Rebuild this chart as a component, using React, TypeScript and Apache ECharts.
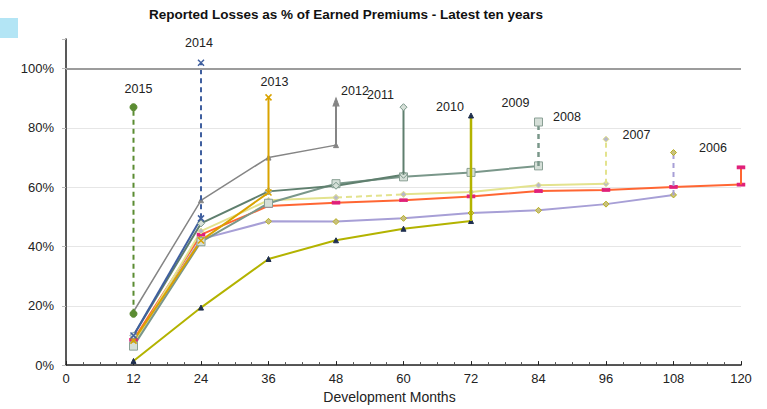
import { useEffect, useRef } from 'react';
import * as echarts from 'echarts';

// Development ages (months) and accident years
const months = [12, 24, 36, 48, 60, 72, 84, 96, 108, 120];
const years = ['2015', '2014', '2013', '2012', '2011', '2010', '2009', '2008', '2007', '2006'];

// Reported losses as % of earned premiums, by accident year
const loss2015 = [17.3];
const loss2014 = [10, 49.5];
const loss2013 = [8.2, 42, 58.2];
const loss2012 = [18, 55.6, 70, 74.2];
const loss2011 = [10, 47.8, 58.6, 60.5, 64.2];
const loss2010 = [1.4, 19.4, 35.8, 42.1, 46, 48.6];
const loss2009 = [6.4, 41.6, 54.6, 61.2, 63.5, 65, 67.2];
const loss2008 = [7, 45.2, 55.6, 56.5, 57.6, 58.4, 60.7, 61.2];
const loss2007 = [7.8, 42.5, 48.5, 48.4, 49.5, 51.3, 52.2, 54.3, 57.4];
const loss2006 = [8.5, 44, 53.7, 54.8, 55.6, 56.9, 58.7, 59.1, 60.1, 60.9];

// Projected ultimate loss ratio per accident year
const ultimate = [87, 102, 90.3, 88.8, 87, 84.2, 82, 76.2, 71.7, 66.7];

const yTicks = [0, 20, 40, 60, 80, 100];

const losses = [loss2015, loss2014, loss2013, loss2012, loss2011, loss2010, loss2009, loss2008, loss2007, loss2006];

const CROSS = 'path://M0,0L10,10M10,0L0,10';

type Style = {
  color: string;
  width: number;
  symbol: string;
  size: number | number[];
  fill: string;
  border: string;
  dashed: boolean;
  stemWidth: number;
  topSymbol: string;
  topSize: number | number[];
  labelOffset: number[];
};

const styles: Style[] = [
  { color: '#5b8c32', width: 2, symbol: 'circle', size: 7, fill: '#5b8c32', border: '#5b8c32', dashed: true, stemWidth: 2, topSymbol: 'circle', topSize: 7, labelOffset: [5, -18] },
  { color: '#3f5f9f', width: 2, symbol: CROSS, size: 6, fill: 'none', border: '#3f5f9f', dashed: true, stemWidth: 2, topSymbol: CROSS, topSize: 6, labelOffset: [-2, -20] },
  { color: '#d9a300', width: 2, symbol: CROSS, size: 6, fill: 'none', border: '#d9a300', dashed: false, stemWidth: 2, topSymbol: CROSS, topSize: 6, labelOffset: [6, -15] },
  { color: '#858585', width: 1.5, symbol: 'triangle', size: 5, fill: '#858585', border: '#858585', dashed: false, stemWidth: 2, topSymbol: 'triangle', topSize: [6, 8], labelOffset: [19, -11] },
  { color: '#5f7f6e', width: 2, symbol: 'diamond', size: 7, fill: '#d6e0d8', border: '#7a978a', dashed: false, stemWidth: 2, topSymbol: 'diamond', topSize: 7, labelOffset: [-23, -12] },
  { color: '#b3b300', width: 2, symbol: 'triangle', size: 5, fill: '#1f2f4f', border: '#1f2f4f', dashed: false, stemWidth: 2.5, topSymbol: 'triangle', topSize: 5, labelOffset: [-21, -8] },
  { color: '#7a978a', width: 2, symbol: 'rect', size: 8, fill: '#d5dfd8', border: '#8aa095', dashed: true, stemWidth: 2.5, topSymbol: 'rect', topSize: 8, labelOffset: [-23, -19] },
  { color: '#e3e38e', width: 2, symbol: 'diamond', size: 6, fill: '#b8b8c8', border: '#e3e38e', dashed: true, stemWidth: 2, topSymbol: 'diamond', topSize: 6, labelOffset: [-39, -22] },
  { color: '#a79fd6', width: 2, symbol: 'diamond', size: 6, fill: '#c8c080', border: '#b8b020', dashed: true, stemWidth: 2, topSymbol: 'diamond', topSize: 6, labelOffset: [-37, -18] },
  { color: '#ff6633', width: 2, symbol: 'rect', size: [7, 3], fill: '#e0207a', border: '#e0207a', dashed: false, stemWidth: 2, topSymbol: 'rect', topSize: [7, 3], labelOffset: [-28, -19] },
];

const FONT = '"Liberation Sans", Arial, Helvetica, sans-serif';

function pts(vals: number[], from = 0, to = vals.length) {
  const out: number[][] = [];
  for (let j = from; j < to; j++) out.push([months[j], vals[j]]);
  return out;
}

function buildSeries() {
  const series: any[] = [];
  // draw oldest years first so recent ones sit on top
  for (let i = years.length - 1; i >= 0; i--) {
    const s = styles[i];
    const vals = losses[i];
    const itemStyle = { color: s.fill === 'none' ? s.border : s.fill, borderColor: s.border, borderWidth: s.symbol === CROSS ? 1.5 : 1 };
    const base = {
      type: 'line',
      symbol: s.symbol,
      symbolSize: s.size,
      itemStyle,
      lineStyle: { color: s.color, width: s.width },
      z: 3,
    };
    if (years[i] === '2008') {
      // 48→60 segment drawn dashed
      series.push({ ...base, name: years[i], data: pts(vals, 0, 4) });
      series.push({ ...base, name: years[i] + '-b', data: pts(vals, 3, 5), lineStyle: { color: s.color, width: s.width, type: [6, 4] } });
      series.push({ ...base, name: years[i] + '-c', data: pts(vals, 4) });
    } else {
      series.push({ ...base, name: years[i], data: pts(vals) });
    }
    // stem from latest evaluation up to projected ultimate
    const last = vals.length - 1;
    series.push({
      type: 'line',
      name: years[i] + ' ult',
      z: 4,
      lineStyle: { color: s.color, width: s.stemWidth, type: s.dashed ? [5, 4] : 'solid' },
      itemStyle,
      data: [
        { value: [months[last], vals[last]], symbol: 'none' },
        {
          value: [months[last], ultimate[i]],
          symbol: s.topSymbol,
          symbolSize: s.topSize,
          label: {
            show: true,
            position: 'inside',
            offset: s.labelOffset,
            formatter: years[i],
            color: '#222',
            fontSize: 12.5,
            fontFamily: FONT,
          },
        },
      ],
    });
  }
  // 100% reference line
  series.push({
    type: 'line',
    name: 'ref',
    data: [],
    markLine: {
      silent: true,
      symbol: ['none', 'none'],
      label: { show: false },
      lineStyle: { color: '#9c9c9c', width: 2, type: 'solid' },
      data: [{ yAxis: yTicks[yTicks.length - 1] }],
    },
  });
  return series;
}

export default function App() {
  const ref = useRef<HTMLDivElement>(null);
  useEffect(() => {
    if (!ref.current) return;
    const chart = echarts.init(ref.current, undefined, { renderer: 'svg' });
    chart.setOption({
      animation: false,
      backgroundColor: '#fff',
      textStyle: { fontFamily: FONT },
      grid: { left: 66, right: 26, top: 39, bottom: 39 },
      graphic: [
        { type: 'rect', shape: { x: 0, y: 18, width: 18, height: 20 }, style: { fill: '#b3e5f5' } },
        {
          type: 'text',
          left: 149,
          top: 7,
          style: { text: 'Reported Losses as % of Earned Premiums - Latest ten years', font: `bold 13.5px ${FONT}`, fill: '#111' },
        },
      ],
      xAxis: {
        type: 'value',
        min: 0,
        max: 120,
        interval: 12,
        name: 'Development Months',
        nameLocation: 'middle',
        nameGap: 21,
        nameTextStyle: { fontSize: 14, color: '#222', fontFamily: FONT, padding: [0, 28, 0, 0] },
        axisLine: { show: true, lineStyle: { color: '#222', width: 1.5 } },
        axisTick: { show: true, inside: true, length: 4, lineStyle: { color: '#222' } },
        minorTick: { show: true, splitNumber: 4, length: 3, lineStyle: { color: '#555' } },
        axisLabel: { fontSize: 13, color: '#222', margin: 7, fontFamily: FONT },
        splitLine: { show: false },
      },
      yAxis: {
        type: 'value',
        min: 0,
        max: 110,
        interval: 20,
        axisLine: { show: true, lineStyle: { color: '#222', width: 1.5 } },
        axisTick: { show: true, length: 4, lineStyle: { color: '#bbb' } },
        axisLabel: {
          fontSize: 13,
          color: '#222',
          margin: 12,
          fontFamily: FONT,
          formatter: (v: number) => (yTicks.includes(v) ? `${v}%` : ''),
        },
        splitLine: {
          show: true,
          lineStyle: { color: ['#e6e6e6', '#e6e6e6', '#e6e6e6', '#e6e6e6', '#e6e6e6', '#e6e6e6', 'rgba(0,0,0,0)'], width: 1 },
        },
      },
      series: buildSeries(),
    });
    return () => chart.dispose();
  }, []);
  return <div ref={ref} style={{ position: 'fixed', left: 0, top: 0, width: 767, height: 409 }} />;
}
